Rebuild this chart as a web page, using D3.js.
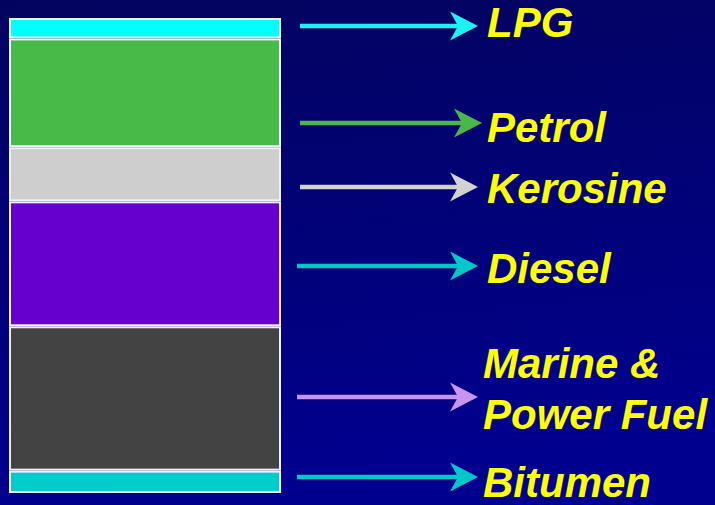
<!DOCTYPE html>
<html>
<head>
<meta charset="utf-8">
<script src="https://cdn.jsdelivr.net/npm/d3@7"></script>
<style>
html,body{margin:0;padding:0;background:#000070;}
svg{display:block;}
</style>
</head>
<body>
<svg id="chart" width="715" height="505"></svg>
<script>
// ---- data ----
const categories = ["LPG", "Petrol", "Kerosine", "Diesel", "Marine & Power Fuel", "Bitumen"];
const shares = [4.3, 22.9, 11.4, 26.3, 30.4, 4.7];   // % of barrel, top to bottom
const labelLines = [["LPG"], ["Petrol"], ["Kerosine"], ["Diesel"], ["Marine &", "Power Fuel"], ["Bitumen"]];
const barColors = ["#00FFFF", "#48BA48", "#CECECE", "#6600CC", "#434343", "#00CCCC"];
const arrowColors = ["#1CF2F2", "#48B848", "#D2D2D2", "#00C8C8", "#C896F0", "#00C8C8"];

// ---- layout (annotation placement) ----
const W = 715, H = 505;
const arrowY = [26, 123, 187, 266, 397, 477];
const arrowX0 = [300, 300, 300, 297, 297, 297];
const arrowTip = [478, 482, 478, 478, 478, 478];
const labelX = [487, 487, 487, 487, 483, 483];
const labelBaselines = [[37], [142], [203], [283], [378, 429], [497]];

const svg = d3.select("#chart");
const defs = svg.append("defs");
const grad = defs.append("linearGradient").attr("id", "bg")
  .attr("x1", 0).attr("y1", 0).attr("x2", 0.15).attr("y2", 1);
grad.append("stop").attr("offset", "0%").attr("stop-color", "#03035F");
grad.append("stop").attr("offset", "100%").attr("stop-color", "#00008F");
svg.append("rect").attr("width", W).attr("height", H).attr("fill", "url(#bg)");

// stacked single column
const row = {};
categories.forEach((c, i) => row[c] = shares[i]);
const stack = d3.stack().keys(categories)([row]);

const x = d3.scaleBand().domain(["barrel"]).range([9, 281]).padding(0);
const total = d3.sum(shares);
const y = d3.scaleLinear().domain([0, total]).range([18, 493]);

svg.append("g").selectAll("rect")
  .data(stack)
  .join("rect")
  .attr("x", x("barrel") + 1)
  .attr("width", x.bandwidth() - 2)
  .attr("y", d => y(d[0][0]) + 1)
  .attr("height", d => y(d[0][1]) - y(d[0][0]) - 2)
  .attr("fill", (d, i) => barColors[i])
  .attr("stroke", "#F0F0FF")
  .attr("stroke-width", 2);

// arrows
const ag = svg.append("g");
categories.forEach((c, i) => {
  const yy = arrowY[i], tip = arrowTip[i], col = arrowColors[i];
  ag.append("line")
    .attr("x1", arrowX0[i]).attr("x2", tip - 20)
    .attr("y1", yy).attr("y2", yy)
    .attr("stroke", col).attr("stroke-width", 4.5);
  const p = d3.path();
  p.moveTo(tip, yy);
  p.lineTo(tip - 28, yy - 14.5);
  p.lineTo(tip - 20, yy);
  p.lineTo(tip - 28, yy + 14.5);
  p.closePath();
  ag.append("path").attr("d", p.toString()).attr("fill", col);
});

// labels
const lg = svg.append("g")
  .attr("font-family", "'Liberation Sans', Arial, Helvetica, sans-serif")
  .attr("font-weight", "bold")
  .attr("font-style", "italic")
  .attr("font-size", 42)
  .attr("fill", "#FFFF00");
labelLines.forEach((lines, i) => {
  lines.forEach((t, j) => {
    lg.append("text")
      .attr("x", labelX[i])
      .attr("y", labelBaselines[i][j])
      .text(t);
  });
});
</script>
</body>
</html>
